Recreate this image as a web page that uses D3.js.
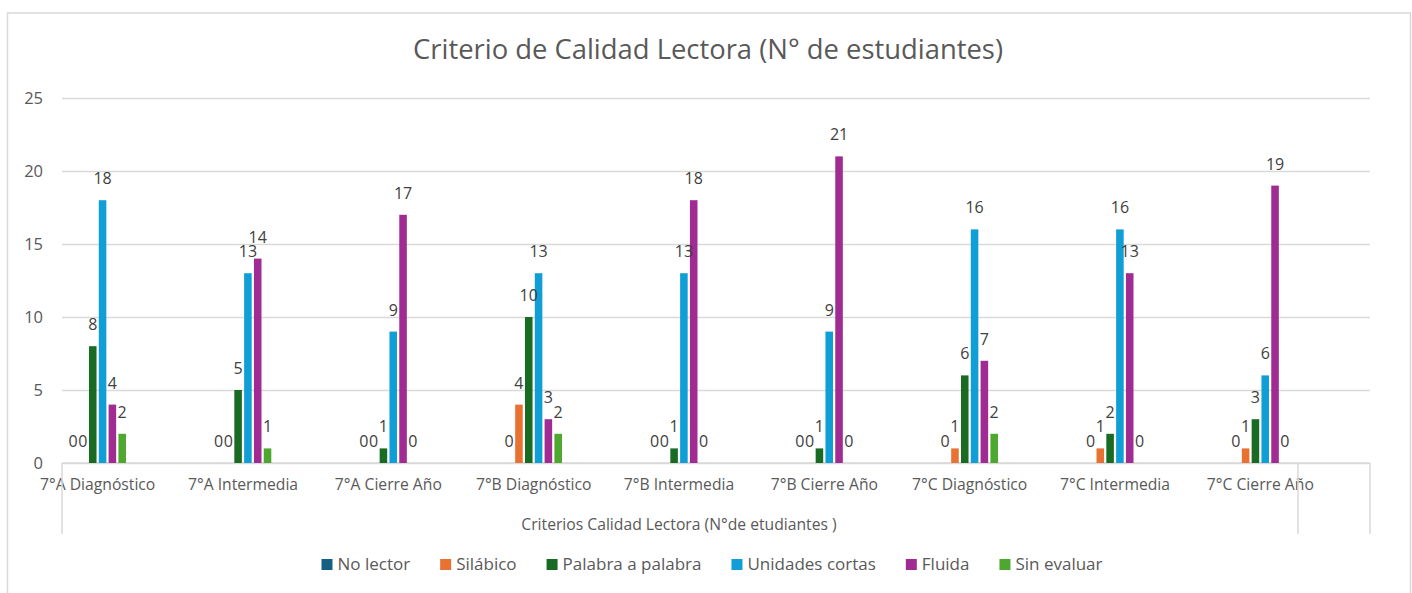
<!DOCTYPE html>
<html>
<head>
<meta charset="utf-8">
<script src="https://cdn.jsdelivr.net/npm/d3@7"></script>
<style>
    body { margin: 0; background: #fff; }
    text { font-family: 'Open Sans', 'Liberation Sans', Arial, sans-serif; }
</style>
</head>
<body>
<svg id="drawing_region"></svg>
<script>
// categories on the x axis
const categories = ['7°A Diagnóstico', '7°A Intermedia', '7°A Cierre Año',
    '7°B Diagnóstico', '7°B Intermedia', '7°B Cierre Año',
    '7°C Diagnóstico', '7°C Intermedia', '7°C Cierre Año'];

// one array per series, same order as categories
const noLector     = [0, 0, 0, 0, 0, 0, 0, 0, 0];
const silabico     = [0, 0, 0, 4, 0, 0, 1, 1, 1];
const palabra      = [8, 5, 1, 10, 1, 1, 6, 2, 3];
const unidades     = [18, 13, 9, 13, 13, 9, 16, 16, 6];
const fluida       = [4, 14, 17, 3, 18, 21, 7, 13, 19];
const sinEvaluar   = [2, 1, 0, 2, 0, 0, 2, 0, 0];

const seriesNames  = ['No lector', 'Silábico', 'Palabra a palabra', 'Unidades cortas', 'Fluida', 'Sin evaluar'];
const seriesValues = [noLector, silabico, palabra, unidades, fluida, sinEvaluar];
const seriesColors = ['#156082', '#E97132', '#196B24', '#0F9ED5', '#A02B93', '#4EA72E'];

const yTicks = [0, 5, 10, 15, 20, 25];

const title = 'Criterio de Calidad Lectora (N° de estudiantes)';
const xTitle = 'Criterios Calidad Lectora (N°de etudiantes )';

class BarChart {
    constructor (config, data) {
        this.config = {
            parent: config.parent,
            width: config.width || 256,
            height: config.height || 256,
            plot: config.plot,
            shift: config.shift || 0
        };
        this.data = data;
        this.init();
    }

    init() {
        let self = this;
        const p = self.config.plot;

        self.svg = d3.select(self.config.parent)
            .attr('width', self.config.width)
            .attr('height', self.config.height);

        // outer frame of the chart
        self.svg.append('rect')
            .attr('x', 7.5).attr('y', 13)
            .attr('width', self.config.width - 9).attr('height', self.config.height + 20)
            .attr('fill', '#fff')
            .attr('stroke', '#d9d9d9')
            .attr('stroke-width', 1.5);

        // excel puts the groups a bit left of the plot area here
        self.xscale = d3.scaleBand()
            .domain(categories)
            .range([p.left - self.config.shift, p.right - self.config.shift])
            .padding(0);

        self.x1 = d3.scaleBand()
            .domain(seriesNames)
            .range([-28.3, 28.3])
            .paddingInner(0.23);

        self.yscale = d3.scaleLinear()
            .domain([0, 25])
            .range([p.bottom, p.top]);

        self.color = d3.scaleOrdinal()
            .domain(seriesNames)
            .range(seriesColors);

        self.chart = self.svg.append('g');
    }

    update() {
        let self = this;
        self.bars = [];
        seriesNames.forEach((name, si) => {
            categories.forEach((cat, ci) => {
                self.bars.push({ series: name, cat: cat, value: self.data[si][ci] });
            });
        });
        self.render();
    }

    render() {
        let self = this;
        const p = self.config.plot;

        // gridlines + y labels
        const yaxis = d3.axisLeft(self.yscale)
            .tickValues(yTicks)
            .tickSize(-(p.right - p.left))
            .tickPadding(19)
            .tickFormat(d3.format('d'));

        const yg = self.chart.append('g')
            .attr('transform', `translate(${p.left}, 0)`)
            .call(yaxis);
        yg.select('.domain').remove();
        yg.selectAll('.tick line')
            .attr('stroke', '#d9d9d9')
            .attr('stroke-width', 1.5);
        yg.selectAll('.tick text')
            .attr('fill', '#595959')
            .style('font-size', '16.5px');

        // category labels
        const xaxis = d3.axisBottom(self.xscale)
            .tickSize(0)
            .tickPadding(16);
        const xg = self.chart.append('g')
            .attr('transform', `translate(0, ${p.bottom})`)
            .call(xaxis);
        xg.select('.domain').remove();
        xg.selectAll('.tick text')
            .attr('fill', '#595959')
            .style('font-size', '15.7px');

        // axis line and the box lines below it
        self.chart.append('line')
            .attr('x1', p.left).attr('x2', p.right)
            .attr('y1', p.bottom).attr('y2', p.bottom)
            .attr('stroke', '#d9d9d9').attr('stroke-width', 1.5);
        self.chart.selectAll('line.box')
            .data([p.left, p.right - 72, p.right])
            .join('line')
            .attr('class', 'box')
            .attr('x1', d => d).attr('x2', d => d)
            .attr('y1', p.bottom).attr('y2', p.bottom + 71)
            .attr('stroke', '#d9d9d9').attr('stroke-width', 1.5);

        // bars
        self.chart.append('g').selectAll('rect')
            .data(self.bars)
            .join('rect')
            .attr('x', d => self.xscale(d.cat) + self.xscale.bandwidth() / 2 + self.x1(d.series))
            .attr('y', d => self.yscale(d.value))
            .attr('width', self.x1.bandwidth())
            .attr('height', d => self.yscale(0) - self.yscale(d.value))
            .attr('fill', d => self.color(d.series));

        // value labels
        self.chart.append('g').selectAll('text')
            .data(self.bars)
            .join('text')
            .attr('x', d => self.xscale(d.cat) + self.xscale.bandwidth() / 2 + self.x1(d.series) + self.x1.bandwidth() / 2)
            .attr('y', d => self.yscale(d.value) - 16)
            .attr('text-anchor', 'middle')
            .attr('fill', '#404040')
            .style('font-size', '16px')
            .text(d => d.value);

        // titles
        self.svg.append('text')
            .attr('x', 708).attr('y', 59)
            .attr('text-anchor', 'middle')
            .attr('fill', '#595959')
            .style('font-size', '27.4px')
            .text(title);

        self.svg.append('text')
            .attr('x', 679).attr('y', 530)
            .attr('text-anchor', 'middle')
            .attr('fill', '#595959')
            .style('font-size', '15.7px')
            .text(xTitle);

        // legend, laid out from the text widths
        const gap = 30;
        const legend = self.svg.append('g');
        const items = legend.selectAll('g')
            .data(seriesNames)
            .join('g');
        items.append('rect')
            .attr('y', 559)
            .attr('width', 11).attr('height', 11)
            .attr('fill', d => self.color(d));
        items.append('text')
            .attr('x', 16).attr('y', 570)
            .attr('fill', '#595959')
            .style('font-size', '17px')
            .text(d => d);

        let xpos = 0;
        items.each(function() {
            const w = d3.select(this).select('text').node().getComputedTextLength();
            d3.select(this).attr('transform', `translate(${xpos}, 0)`);
            xpos += 16 + w + gap;
        });
        const total = xpos - gap;
        legend.attr('transform', `translate(${712 - total / 2}, 0)`);
    }
}

let chart = new BarChart({
    parent: '#drawing_region',
    width: 1412,
    height: 593,
    plot: { left: 62, right: 1370, top: 98, bottom: 463 },
    shift: 37
}, seriesValues);
chart.update();
</script>
</body>
</html>
